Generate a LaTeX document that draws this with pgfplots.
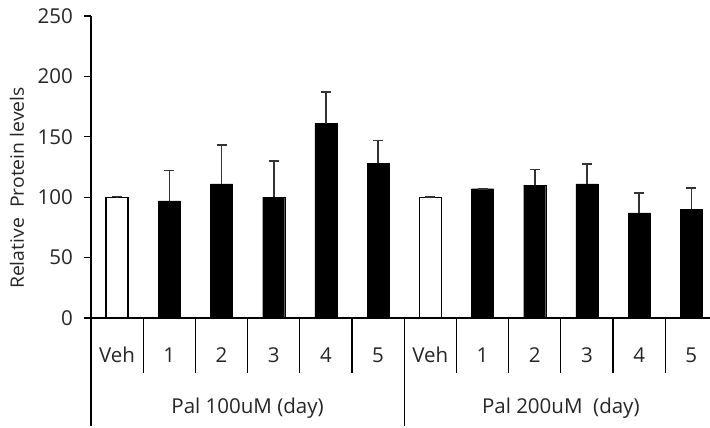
\documentclass[border=0pt]{standalone}
\usepackage{fontspec}
\setmainfont{Open Sans}
\newfontfamily\ylabfont{Open Sans}[FakeStretch=1.05]
\usepackage{pgfplots}
\pgfplotsset{compat=1.18}
\definecolor{txt}{HTML}{262626}
\begin{document}
\fontsize{20.5}{25}\selectfont
\begin{tikzpicture}
\begin{axis}[
  scale only axis, width=619pt, height=302pt,
  xmin=-0.5, xmax=11.358, ymin=0, ymax=250,
  axis lines*=left,
  axis line style={line width=1.3pt, black},
  ytick={0,50,...,250},
  tick align=outside,
  major tick length=7pt,
  ytick style={line width=1.3pt, black},
  xtick={0,...,11},
  xticklabels={Veh,1,2,3,4,5,Veh,1,2,3,4,5},
  x tick style={draw=none},
  xticklabel style={anchor=center, yshift=-30pt, text=txt},
  yticklabel style={text=txt, inner sep=0pt, xshift=-11pt},
  /pgf/number format/assume math mode=true,
  ybar, bar width=22pt,
  clip=false,
  error bars/error bar style={line width=1.6pt, black!80},
  error bars/error mark options={rotate=90, mark size=5pt, line width=1.6pt, black!80},
]
\addplot[fill=white, draw=black, line width=1.3pt, bar shift=0pt,
  error bars/.cd, y dir=plus, y explicit]
  coordinates {(0,100) +- (0,0.5) (6,100) +- (0,0)};
\addplot[fill=black, draw=black, bar shift=0pt,
  error bars/.cd, y dir=plus, y explicit]
  coordinates {(1,97) +- (0,25) (2,111) +- (0,32) (3,100) +- (0,30)
               (4,161) +- (0,26) (5,128) +- (0,19)
               (7,107) +- (0,0) (8,110) +- (0,13) (9,111) +- (0,16.5)
               (10,87) +- (0,16.5) (11,90) +- (0,17.5)};
\pgfplotsinvokeforeach{0.5,1.5,2.5,3.5,4.5,6.5,7.5,8.5,9.5,10.5}{
  \draw[line width=1.2pt] (axis cs:#1,0) -- ++(0pt,-55pt);
}
\draw[line width=1.2pt] (axis cs:-0.5,0) -- ++(0pt,-108pt);
\draw[line width=1.2pt] (axis cs:5.5,0) -- ++(0pt,-108pt);
\node[text=txt] at (axis cs:2.5,0) [yshift=-90pt] {Pal 100uM (day)};
\node[text=txt] at (axis cs:8.5,0) [yshift=-90pt] {Pal 200uM\ \ (day)};
\end{axis}
\node[rotate=90, text=txt, font=\ylabfont\fontsize{18.5}{22}\selectfont] at (-74pt,130pt) {Relative\ \ Protein levels};
\pgfresetboundingbox
\path[use as bounding box] (-91pt,-110pt) rectangle (619pt,318pt);
\end{tikzpicture}
\end{document}
